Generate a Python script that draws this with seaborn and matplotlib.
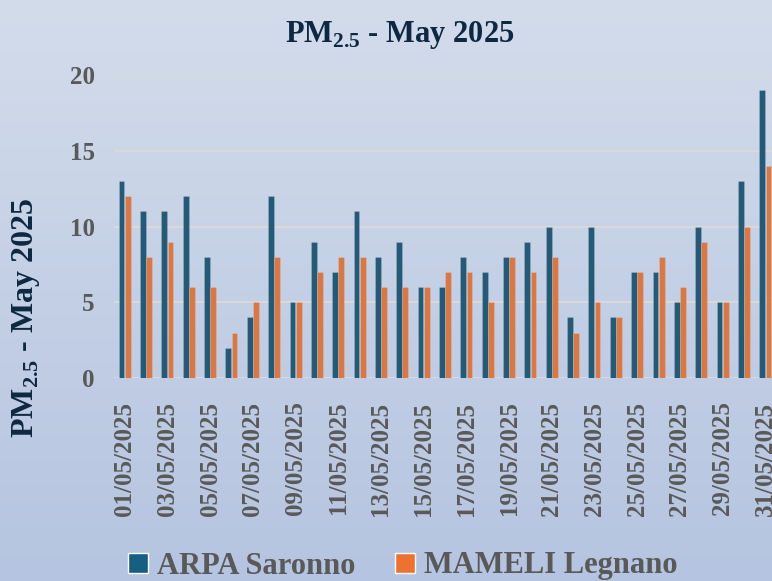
import numpy as np
import pandas as pd
import matplotlib
matplotlib.use("Agg")
import matplotlib.pyplot as plt
import seaborn as sns
from matplotlib.patches import Patch

# ============================================================
# DATA
# ============================================================
dates = ["%02d/05/2025" % d for d in range(1, 32)]
arpa_saronno = [13, 11, 11, 12, 8, 2, 4, 12, 5, 9, 7, 11, 8, 9, 6, 6,
                8, 7, 8, 9, 10, 4, 10, 4, 7, 7, 5, 10, 5, 13, 19]
mameli_legnano = [12, 8, 9, 6, 6, 3, 5, 8, 5, 7, 8, 8, 6, 6, 6, 7,
                  7, 5, 8, 7, 8, 3, 5, 4, 7, 8, 6, 9, 5, 10, 14]
series_names = ["ARPA Saronno", "MAMELI Legnano"]
y_ticks = [0, 5, 10, 15, 20]

df = pd.DataFrame({
    "Data": dates * 2,
    "Valore": arpa_saronno + mameli_legnano,
    "Stazione": [series_names[0]] * len(dates) + [series_names[1]] * len(dates),
})

# ============================================================
# STYLE
# ============================================================
sns.set_style("white")
plt.rcParams["font.family"] = ["Liberation Serif", "DejaVu Serif"]
plt.rcParams["font.weight"] = "bold"
plt.rcParams["mathtext.fontset"] = "custom"
plt.rcParams["mathtext.rm"] = "Liberation Serif:bold"
plt.rcParams["mathtext.bf"] = "Liberation Serif:bold"

blue = "#175e82"
orange = "#ed7232"
navy = "#0e2841"
gray = "#595959"

fig = plt.figure(figsize=(7.72, 5.81), dpi=100)

# sfondo sfumato
bg = fig.add_axes([0, 0, 1, 1], zorder=-10)
top = np.array([211, 220, 235]) / 255
bottom = np.array([181, 196, 224]) / 255
t = np.linspace(0, 1, 256)[:, None]
grad = top * (1 - t) + bottom * t
bg.imshow(grad[:, None, :].repeat(2, axis=1), aspect="auto", extent=[0, 1, 0, 1])
bg.axis("off")

ax = fig.add_axes([114 / 772, 203 / 581, 662 / 772, 303 / 581])
ax.patch.set_alpha(0)

sns.barplot(
    data=df, x="Data", y="Valore", hue="Stazione",
    palette=[blue, orange], width=0.58, gap=0.06,
    edgecolor=(1, 1, 1, 0.2), linewidth=0.5,
    legend=False, ax=ax, zorder=3,
)

ax.set_ylim(0, 20)
ax.set_xlim(-0.5, len(dates) - 0.5)
ax.set_yticks(y_ticks)
ax.yaxis.grid(True, color="#d9d9d9", linewidth=1.5, zorder=0)
ax.set_axisbelow(True)
for s in ax.spines.values():
    s.set_visible(False)

ax.set_xticks(range(0, len(dates), 2))
ax.set_xticklabels(dates[::2], rotation=90, fontsize=18, color=gray,
                   fontweight="bold")
ax.tick_params(axis="x", length=0, pad=17)
ax.tick_params(axis="y", length=0, pad=14, labelsize=18, labelcolor=gray)
ax.set_xlabel("")
ax.set_ylabel(r"PM$_{\mathrm{2.5}}$ - May 2025", fontsize=23, color=navy,
              fontweight="bold")
ax.yaxis.set_label_coords(-0.109, 0.2)

fig.text(400 / 772, 1 - 42 / 581, r"PM$_{\mathrm{2.5}}$ - May 2025",
         ha="center", va="baseline", fontsize=22, color=navy, fontweight="bold")

handles = [Patch(facecolor=blue), Patch(facecolor=orange)]
fig.legend(handles, series_names, loc="center", ncol=2,
           bbox_to_anchor=(403 / 772, 1 - 566 / 581), frameon=False,
           fontsize=22, labelcolor=gray, handlelength=0.65, handleheight=0.65,
           handletextpad=0.3, columnspacing=1.3)

fig.savefig("out.png", dpi=100)
